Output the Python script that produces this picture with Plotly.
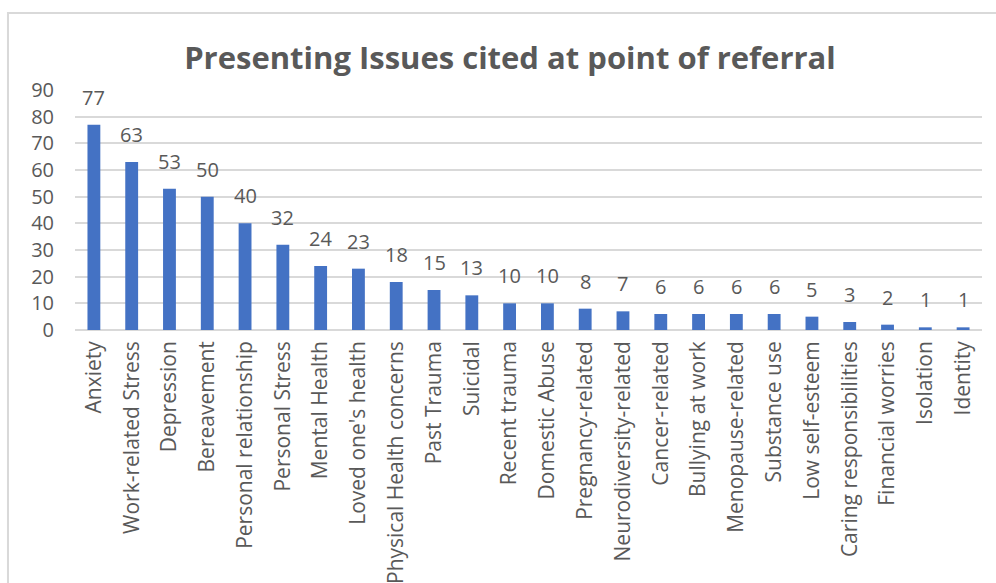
import plotly.graph_objects as go

categories = [
    "Anxiety", "Work-related Stress", "Depression", "Bereavement",
    "Personal relationship", "Personal Stress", "Mental Health",
    "Loved one's health", "Physical Health concerns", "Past Trauma",
    "Suicidal", "Recent trauma", "Domestic Abuse", "Pregnancy-related",
    "Neurodiversity-related", "Cancer-related", "Bullying at work",
    "Menopause-related", "Substance use", "Low self-esteem",
    "Caring responsibilities", "Financial worries", "Isolation", "Identity",
]
counts = [77, 63, 53, 50, 40, 32, 24, 23, 18, 15, 13, 10, 10, 8, 7, 6, 6, 6, 6, 5, 3, 2, 1, 1]

TEXT = "#595959"
GRID = "#d9d9d9"
BAR = "#4472C4"
FONT = "Open Sans"

fig = go.Figure(
    go.Bar(
        x=categories,
        y=counts,
        marker=dict(color=BAR, line=dict(width=0)),
        width=0.34,
        hoverinfo="x+y",
    )
)

# value labels floating above each bar
for cat, val in zip(categories, counts):
    fig.add_annotation(
        x=cat, y=val, text=str(val), showarrow=False,
        yanchor="bottom", yshift=12,
        font=dict(family=FONT, size=20, color=TEXT),
    )

# outer chart frame
fig.add_shape(
    type="rect", xref="paper", yref="paper",
    x0=-0.0739, x1=1.2, y0=-1.5, y1=1.321,
    line=dict(color=GRID, width=2), fillcolor="rgba(0,0,0,0)", layer="below",
)

fig.update_layout(
    width=996, height=583,
    margin=dict(l=75, r=14, t=90, b=253, autoexpand=False),
    paper_bgcolor="white", plot_bgcolor="white",
    showlegend=False,
    title=dict(
        text="<b>Presenting Issues cited at point of referral</b>",
        x=0.512, xanchor="center", y=0.9, yanchor="middle",
        font=dict(family=FONT, size=31, color=TEXT),
    ),
    xaxis=dict(
        tickangle=-90, tickfont=dict(family=FONT, size=21, color=TEXT),
        showline=False, showgrid=False, ticks="", ticklabelstandoff=6,
        automargin=False,
    ),
    yaxis=dict(
        range=[0, 90], dtick=10, showline=False, zeroline=True,
        zerolinecolor=GRID, zerolinewidth=2,
        gridcolor=GRID, gridwidth=2,
        tickfont=dict(family=FONT, size=20, color=TEXT),
        ticks="", ticklabelstandoff=20, automargin=False,
    ),
)

fig.write_html("out.html")
